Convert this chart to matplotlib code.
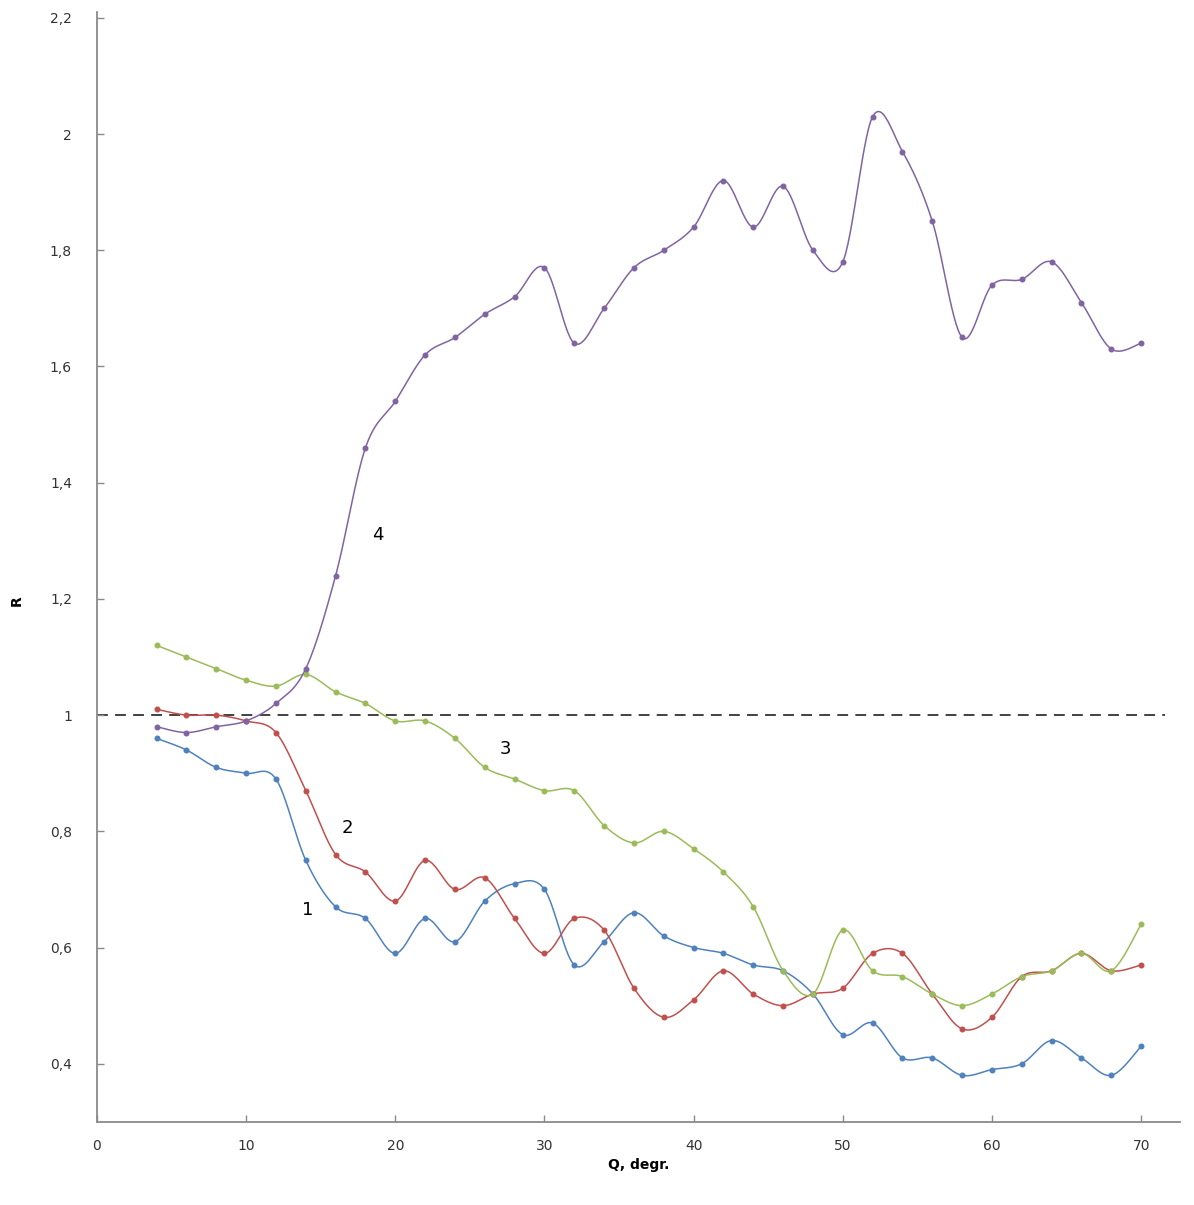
import matplotlib
matplotlib.use("Agg")
import matplotlib.pyplot as plt
from matplotlib.ticker import FuncFormatter, MultipleLocator
import numpy as np

# угол, градусы
q = [4, 6, 8, 10, 12, 14, 16, 18, 20, 22, 24, 26, 28, 30, 32, 34, 36,
     38, 40, 42, 44, 46, 48, 50, 52, 54, 56, 58, 60, 62, 64, 66, 68, 70]

r1 = [0.96, 0.94, 0.91, 0.90, 0.89, 0.75, 0.67, 0.65, 0.59, 0.65, 0.61, 0.68,
      0.71, 0.70, 0.57, 0.61, 0.66, 0.62, 0.60, 0.59, 0.57, 0.56, 0.52, 0.45,
      0.47, 0.41, 0.41, 0.38, 0.39, 0.40, 0.44, 0.41, 0.38, 0.43]
r2 = [1.01, 1.00, 1.00, 0.99, 0.97, 0.87, 0.76, 0.73, 0.68, 0.75, 0.70, 0.72,
      0.65, 0.59, 0.65, 0.63, 0.53, 0.48, 0.51, 0.56, 0.52, 0.50, 0.52, 0.53,
      0.59, 0.59, 0.52, 0.46, 0.48, 0.55, 0.56, 0.59, 0.56, 0.57]
r3 = [1.12, 1.10, 1.08, 1.06, 1.05, 1.07, 1.04, 1.02, 0.99, 0.99, 0.96, 0.91,
      0.89, 0.87, 0.87, 0.81, 0.78, 0.80, 0.77, 0.73, 0.67, 0.56, 0.52, 0.63,
      0.56, 0.55, 0.52, 0.50, 0.52, 0.55, 0.56, 0.59, 0.56, 0.64]
r4 = [0.98, 0.97, 0.98, 0.99, 1.02, 1.08, 1.24, 1.46, 1.54, 1.62, 1.65, 1.69,
      1.72, 1.77, 1.64, 1.70, 1.77, 1.80, 1.84, 1.92, 1.84, 1.91, 1.80, 1.78,
      2.03, 1.97, 1.85, 1.65, 1.74, 1.75, 1.78, 1.71, 1.63, 1.64]

series = [r1, r2, r3, r4]
labels = ['1', '2', '3', '4']
colors = ['#4F81BD', '#C0504D', '#9BBB59', '#8064A2']
label_pos = [(14.1, 0.665), (16.8, 0.805), (27.4, 0.942), (18.8, 1.31)]
ref_level = 1.0


def smooth(x, y, n=30):
    # сглаживание кривыми Безье (как "сглаженная линия" в Excel)
    x = np.asarray(x, float)
    y = np.asarray(y, float)
    px = np.concatenate([[x[0]], x, [x[-1]]])
    py = np.concatenate([[y[0]], y, [y[-1]]])
    xs, ys = [], []
    t = np.linspace(0, 1, n)
    for i in range(len(x) - 1):
        p0 = np.array([x[i], y[i]])
        p3 = np.array([x[i + 1], y[i + 1]])
        p1 = p0 + (np.array([px[i + 2], py[i + 2]]) - np.array([px[i], py[i]])) / 6
        p2 = p3 - (np.array([px[i + 3], py[i + 3]]) - np.array([px[i + 1], py[i + 1]])) / 6
        b = ((1 - t) ** 3)[:, None] * p0 + (3 * (1 - t) ** 2 * t)[:, None] * p1 \
            + (3 * (1 - t) * t ** 2)[:, None] * p2 + (t ** 3)[:, None] * p3
        xs.append(b[:, 0])
        ys.append(b[:, 1])
    return np.concatenate(xs), np.concatenate(ys)


fig = plt.figure(figsize=(11.94, 12.05), dpi=100)
ax = fig.add_axes([0.0812, 0.069, 0.907, 0.921])

ax.hlines(ref_level, 0, 71.6, colors='#333333', linestyles=(0, (6, 4)), lw=1.3, zorder=1)

for y, c in zip(series, colors):
    sx, sy = smooth(q, y)
    ax.plot(sx, sy, color=c, lw=1.1, zorder=2)
    ax.plot(q, y, 'o', color=c, ms=3.3, zorder=3)

for (lx, ly), t in zip(label_pos, labels):
    ax.text(lx, ly, t, fontsize=13, ha='center', va='center', color='black')

ax.set_xlim(0, 72.6)
ax.set_ylim(0.3, 2.21)
ax.xaxis.set_major_locator(MultipleLocator(10))
ax.set_yticks(np.arange(0.4, 2.21, 0.2))
ax.yaxis.set_major_formatter(FuncFormatter(lambda v, p: f"{round(v, 2):g}".replace('.', ',')))

for s in ['top', 'right']:
    ax.spines[s].set_visible(False)
for s in ['left', 'bottom']:
    ax.spines[s].set_color('#8a8a8a')
    ax.spines[s].set_linewidth(1.3)
ax.tick_params(direction='in', length=5, width=1, color='#8a8a8a',
               labelsize=10, labelcolor='#333333')
ax.tick_params(axis='x', pad=12)
ax.tick_params(axis='y', pad=18)

ax.set_xlabel('Q, degr.', fontsize=10, fontweight='bold', labelpad=4)
ax.set_ylabel('R', fontsize=10, fontweight='bold')
ax.yaxis.set_label_coords(-0.068, 0.47)

fig.savefig('out.png', dpi=100)
